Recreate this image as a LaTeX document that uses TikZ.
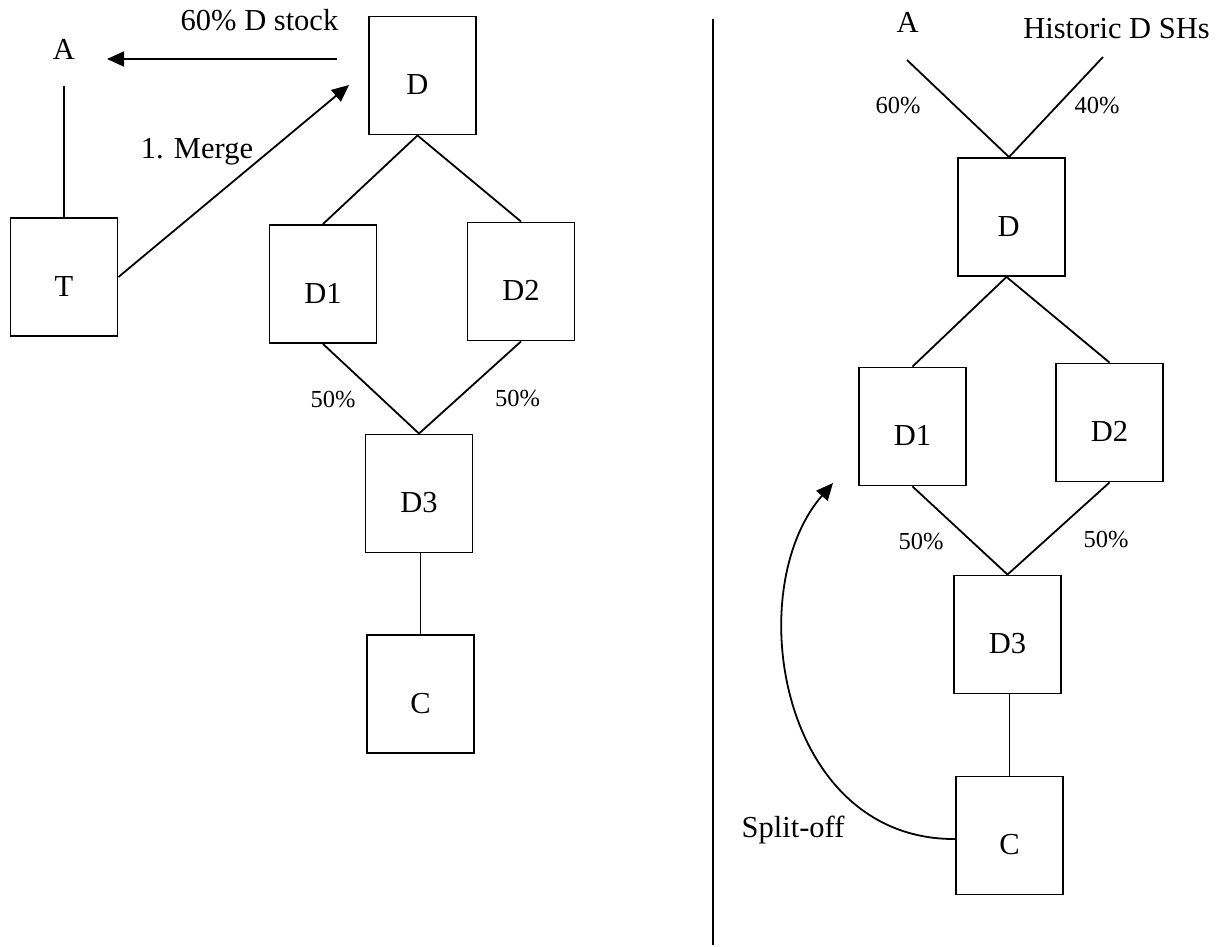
\documentclass[tikz,border=0pt]{standalone}
\usepackage{fontspec}
\setmainfont{Liberation Serif}
\usetikzlibrary{arrows.meta}
\begin{document}
\begin{tikzpicture}[x=1pt,y=-1pt,
  box/.style={draw,line width=1.9pt,minimum width=107pt,minimum height=118pt,inner sep=0pt},
  lbl/.style={font=\fontsize{30.5}{36}\selectfont,inner sep=0pt,anchor=base},
  pct/.style={font=\fontsize{24.5}{29}\selectfont,inner sep=0pt,anchor=base},
  conn/.style={line width=1.8pt},
  arr/.style={line width=1.8pt,-{Triangle[length=17pt,width=15pt]}}]
\useasboundingbox (0,0) rectangle (1225,946);

% ---------- left side ----------
\node[lbl] (AL) at (64,59) {A};
\node[lbl] (stockL) at (259.5,30) {60\% D stock};
\node[lbl] (mergeL) at (197,158) {1. Merge};

\node[box] (TL)  at (64,277) {};
\node[box] (DL)  at (422.5,75.5) {};
\node[box] (D1L) at (323,284) {};
\node[box] (D2L) at (521,281.5) {};
\node[box] (D3L) at (419,493.5) {};
\node[box] (CL)  at (420.5,694) {};

\node[lbl] (tTL)  at ([yshift=-19pt]TL.center) {T};
\node[lbl] (tDL)  at ([xshift=-5pt,yshift=-19pt]DL.center) {D};
\node[lbl] (tD1L) at ([yshift=-19pt]D1L.center) {D1};
\node[lbl] (tD2L) at ([yshift=-19pt]D2L.center) {D2};
\node[lbl] (tD3L) at ([yshift=-19pt]D3L.center) {D3};
\node[lbl] (tCL)  at ([yshift=-19pt]CL.center) {C};

\node[pct] (p1L) at (333,407) {50\%};
\node[pct] (p2L) at (517.5,406) {50\%};

\coordinate (AbotL) at (64,86);
\coordinate (stockStart) at (337,59);
\coordinate (stockEnd) at (107,59);
\coordinate (mergeEnd) at (349,85);

\draw[conn] (AbotL) -- (TL.north);
\draw[arr] (stockStart) -- (stockEnd);
\draw[arr] (TL.east) -- (mergeEnd);
\draw[conn] ([xshift=-5pt]DL.south) -- (D1L.north);
\draw[conn] ([xshift=-5pt]DL.south) -- (D2L.north);
\draw[conn] (D1L.south) -- (D3L.north);
\draw[conn] (D2L.south) -- (D3L.north);
\draw[conn] (CL.north |- D3L.south) -- (CL.north);

% ---------- divider ----------
\coordinate (divTop) at (713,19);
\coordinate (divBot) at (713,945);
\draw[line width=2pt] (divTop) -- (divBot);

% ---------- right side ----------
\node[lbl] (AR) at (907.5,32) {A};
\node[lbl] (histR) at (1116.5,38) {Historic D SHs};
\node[pct] (p60R) at (898,113) {60\%};
\node[pct] (p40R) at (1097,113) {40\%};

\node[box] (DR)  at (1011.5,217) {};
\node[box] (D1R) at (912.5,426.5) {};
\node[box] (D2R) at (1109.5,422.5) {};
\node[box] (D3R) at (1007.5,634.5) {};
\node[box] (CR)  at (1009.5,835.5) {};

\node[lbl] (tDR)  at ([xshift=-3pt,yshift=-19pt]DR.center) {D};
\node[lbl] (tD1R) at ([yshift=-19pt]D1R.center) {D1};
\node[lbl] (tD2R) at ([yshift=-19pt]D2R.center) {D2};
\node[lbl] (tD3R) at ([yshift=-19pt]D3R.center) {D3};
\node[lbl] (tCR)  at ([yshift=-19pt]CR.center) {C};

\node[pct] (p1R) at (921,549) {50\%};
\node[pct] (p2R) at (1106,547) {50\%};
\node[lbl] (splitR) at (793,837) {Split-off};

\coordinate (AlineR) at (907,60);
\coordinate (HlineR) at (1103,57);
\coordinate (splitEnd) at (833,483);

\draw[conn] (AlineR) -- ([xshift=-2.5pt]DR.north);
\draw[conn] (HlineR) -- ([xshift=-2.5pt]DR.north);
\draw[conn] ([xshift=-5pt]DR.south) -- (D1R.north);
\draw[conn] ([xshift=-5pt]DR.south) -- (D2R.north);
\draw[conn] (D1R.south) -- (D3R.north);
\draw[conn] (D2R.south) -- (D3R.north);
\draw[conn] (CR.north |- D3R.south) -- (CR.north);
\draw[arr] ([yshift=-3.5pt]CR.west) .. controls (780,840) and (740,590) .. (splitEnd);
\end{tikzpicture}
\end{document}
